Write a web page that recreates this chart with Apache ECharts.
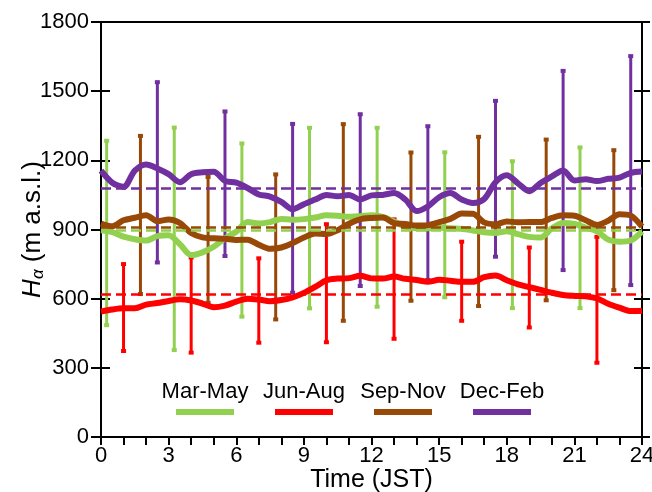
<!DOCTYPE html>
<html>
<head>
<meta charset="utf-8">
<script src="https://cdn.jsdelivr.net/npm/echarts@6/dist/echarts.min.js"></script>
<style>
  html, body { margin: 0; background: #fff; }
  #chart { width: 652px; height: 492px; }
</style>
</head>
<body>
<div id="chart"></div>
<script>
// half-hourly values
const hours = [];
for (let i = 0; i <= 48; i++) hours.push(i / 2);

const seasons = ['Mar-May', 'Jun-Aug', 'Sep-Nov', 'Dec-Feb'];
const colors = ['#92d050', '#ff0000', '#984807', '#7030a0'];

const marMay = [897,889,869,858,852,871,875,836,789,801,825,862,890,932,926,932,946,
  942,945,952,962,960,955,958,962,955,935,912,905,905,908,905,903,
  896,888,885,892,880,868,865,905,928,924,908,892,856,847,852,892];
const junAug = [544,553,558,558,574,581,590,597,592,579,563,570,587,600,596,589,594,
  605,625,651,680,687,689,699,688,687,696,686,681,673,682,678,673,
  673,693,700,680,662,650,638,626,616,612,610,601,578,561,546,548];
const sepNov = [926,914,940,951,962,936,943,928,885,866,862,860,855,856,834,816,822,
  841,865,883,880,897,925,944,950,952,928,924,917,919,932,946,969,
  968,931,923,935,931,933,932,950,962,960,940,920,938,966,960,912];
const decFeb = [1155,1103,1085,1155,1182,1165,1140,1105,1140,1148,1150,1111,1103,1080,1052,1043,1020,
  988,1010,1030,1050,1044,1050,1030,1048,1050,1058,1030,980,1000,1040,1058,1030,
  1015,1032,1105,1135,1100,1066,1102,1130,1156,1113,1118,1110,1120,1125,1146,1152];

// seasonal means (dashed lines)
const means = [897, 620, 909, 1081];

// error bars: hour, low, high
const errHours = [
  [0.25, 3.25, 6.25, 9.25, 12.25, 15.25, 18.25, 21.25],
  [1, 4, 7, 10, 13, 16, 19, 22],
  [1.75, 4.75, 7.75, 10.75, 13.75, 16.75, 19.75, 22.75],
  [2.5, 5.5, 8.5, 11.5, 14.5, 17.5, 20.5, 23.5]
];
const errLow = [
  [485, 377, 522, 558, 565, 606, 559, 559],
  [373, 366, 409, 411, 426, 504, 475, 322],
  [620, 582, 510, 504, 591, 568, 593, 637],
  [757, 785, 626, 655, 681, 782, 724, 659]
];
const errHigh = [
  [1285, 1342, 1273, 1341, 1341, 1235, 1196, 1256],
  [750, 779, 775, 923, 944, 847, 822, 868],
  [1306, 1128, 1139, 1357, 1234, 1302, 1290, 1244],
  [1539, 1412, 1358, 1400, 1348, 1458, 1588, 1652]
];

const lines = [marMay, junAug, sepNov, decFeb];
const font = "'Liberation Sans', Arial, sans-serif";

const chart = echarts.init(document.getElementById('chart'));

function errSeries(i) {
  const color = colors[i];
  return {
    type: 'custom',
    name: seasons[i] + ' range',
    z: 2,
    silent: true,
    data: errHours[i].map((h, k) => [h, errLow[i][k], errHigh[i][k]]),
    encode: { x: 0, y: [1, 2] },
    renderItem: function (params, api) {
      const top = api.coord([api.value(0), api.value(2)]);
      const bot = api.coord([api.value(0), api.value(1)]);
      return {
        type: 'group',
        children: [
          { type: 'line', shape: { x1: top[0], y1: top[1], x2: bot[0], y2: bot[1] },
            style: { stroke: color, lineWidth: 3 } },
          { type: 'rect', shape: { x: top[0] - 2.5, y: top[1] - 2, width: 5, height: 4 },
            style: { fill: color } },
          { type: 'rect', shape: { x: bot[0] - 2.5, y: bot[1] - 2, width: 5, height: 4 },
            style: { fill: color } }
        ]
      };
    }
  };
}

function lineSeries(i) {
  return {
    type: 'line',
    name: seasons[i],
    z: 3,
    data: hours.map((h, k) => [h, lines[i][k]]),
    showSymbol: false,
    smooth: 0.3,
    lineStyle: { color: colors[i], width: 6 },
    itemStyle: { color: colors[i] },
    markLine: {
      silent: true,
      symbol: 'none',
      label: { show: false },
      lineStyle: { color: colors[i], type: [10, 5], width: 2.5 },
      data: [{ yAxis: means[i] }]
    }
  };
}

const legendItems = [];
seasons.forEach((s, i) => {
  const cx = 205 + 99 * i;
  legendItems.push({
    type: 'text', x: cx, y: 392,
    style: { text: s, fontSize: 22, fontFamily: font, fill: '#000', align: 'center', verticalAlign: 'middle' }
  });
  legendItems.push({
    type: 'rect', shape: { x: cx - 29, y: 409, width: 58, height: 6 },
    style: { fill: colors[i] }
  });
});

const axisLineStyle = { color: '#000', width: 2 };

chart.setOption({
  animation: false,
  backgroundColor: '#fff',
  grid: { left: 101, right: 10, top: 22, bottom: 55, outerBoundsMode: 'none' },
  xAxis: [
    {
      type: 'value', position: 'bottom', min: 0, max: 24, interval: 1,
      name: 'Time (JST)', nameLocation: 'middle', nameGap: 31, nameMoveOverlap: false,
      nameTextStyle: { fontSize: 25, fontFamily: font, color: '#000' },
      axisLine: { show: true, onZero: false, lineStyle: axisLineStyle },
      axisTick: { show: true, length: 8, lineStyle: { color: '#000', width: 2 } },
      axisLabel: {
        fontSize: 22, fontFamily: font, color: '#000', margin: 8,
        formatter: v => (v % 3 === 0 ? String(v) : '')
      },
      splitLine: { show: false }
    },
    {
      type: 'value', position: 'top', min: 0, max: 24,
      axisLine: { show: true, onZero: false, lineStyle: axisLineStyle },
      axisTick: { show: false }, axisLabel: { show: false }, splitLine: { show: false }
    }
  ],
  yAxis: [
    {
      type: 'value', position: 'left', min: 0, max: 1800, interval: 300,
      name: '{h|H}{a|α} (m a.s.l.)', nameLocation: 'middle', nameGap: 54, nameMoveOverlap: false,
      nameTextStyle: {
        fontSize: 26, fontFamily: font, color: '#000',
        rich: {
          h: { fontSize: 26, fontFamily: font, fontStyle: 'italic', color: '#000' },
          a: { fontSize: 17, fontFamily: font, fontStyle: 'italic', color: '#000', padding: [12, 0, 0, 0] }
        }
      },
      axisLine: { show: true, onZero: false, lineStyle: axisLineStyle },
      axisTick: { show: true, length: 10, lineStyle: { color: '#000', width: 2 } },
      axisLabel: { fontSize: 22, fontFamily: font, color: '#000', margin: 12, formatter: v => String(v) },
      splitLine: { show: false }
    },
    {
      type: 'value', position: 'left', min: 0, max: 1800, interval: 300,
      axisLine: { show: false, onZero: false },
      axisTick: { show: true, inside: true, length: 9, lineStyle: { color: '#000', width: 2 } },
      axisLabel: { show: false }, splitLine: { show: false }
    },
    {
      type: 'value', position: 'right', min: 0, max: 1800, interval: 300,
      axisLine: { show: true, onZero: false, lineStyle: axisLineStyle },
      axisTick: { show: true, inside: true, length: 8, lineStyle: { color: '#000', width: 2 } },
      axisLabel: { show: false }, splitLine: { show: false }
    },
    {
      type: 'value', position: 'right', min: 0, max: 1800, interval: 300,
      axisLine: { show: false, onZero: false },
      axisTick: { show: true, length: 8, lineStyle: { color: '#000', width: 2 } },
      axisLabel: { show: false }, splitLine: { show: false }
    }
  ],
  graphic: legendItems,
  series: [0, 1, 2, 3].map(errSeries).concat([0, 1, 2, 3].map(lineSeries))
});
</script>
</body>
</html>
